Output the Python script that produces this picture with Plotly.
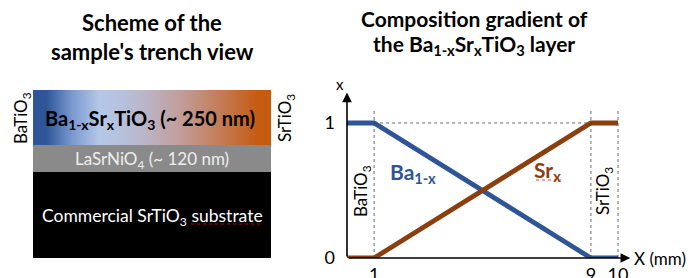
import plotly.graph_objects as go

# ---------------- data ----------------
positions_mm = [0, 1, 9, 10]
ba_fraction = [1, 1, 0, 0]
sr_fraction = [0, 0, 1, 1]
boundaries_mm = [1, 9, 10]
x_tick_vals = [1, 9, 10]
x_tick_text = ["1", "9", "10"]
y_tick_vals = [0, 1]
y_tick_text = ["0", "1"]
gradient_colors = ["#2E5597", "#7D9BD2", "#B4C7E7", "#B7C0DA", "#BCB0BE",
                   "#C19E9C", "#C3896F", "#C47242", "#C55A11"]

FONT = "Lato"
BLUE = "#2F5597"
BROWN = "#8B3F0F"

fig = go.Figure()

# ---------- left scheme (drawn on a pixel-like overlay axis) ----------
n = len(gradient_colors)
cs = [[i / (n - 1), c] for i, c in enumerate(gradient_colors)]
L, R = 33, 271
edges = [L + (R - L) * i / n for i in range(n + 1)]
fig.add_trace(go.Heatmap(
    z=[list(range(n))], x=edges, y=[90, 145], colorscale=cs, zsmooth="best",
    showscale=False, hoverinfo="skip", xaxis="x2", yaxis="y2"))

# ---------- right chart ----------
fig.add_trace(go.Scatter(x=positions_mm, y=ba_fraction, mode="lines",
                         line=dict(color=BLUE, width=4.8), showlegend=False))
fig.add_trace(go.Scatter(x=positions_mm, y=sr_fraction, mode="lines",
                         line=dict(color=BROWN, width=4.8), showlegend=False))

shapes = [
    dict(type="rect", xref="x2", yref="y2", x0=L, x1=R, y0=145, y1=172,
         fillcolor="#8A8A8A", line=dict(width=0), layer="below"),
    dict(type="rect", xref="x2", yref="y2", x0=L, x1=R, y0=172, y1=258,
         fillcolor="#000000", line=dict(width=0), layer="below"),
    dict(type="line", xref="x2", yref="y2", x0=191, x1=263, y0=224, y1=224,
         line=dict(color="#C00000", width=1, dash="dot")),
    dict(type="line", xref="x2", yref="y2", x0=536, x1=561, y0=180, y1=180,
         line=dict(color="#E04040", width=1, dash="dot")),
]
for b in boundaries_mm:
    shapes.append(dict(type="line", xref="x", yref="y", x0=b, x1=b, y0=0, y1=1.11,
                       line=dict(color="#444444", width=0.8, dash="dot")))
shapes.append(dict(type="line", xref="x", yref="y", x0=boundaries_mm[0], x1=boundaries_mm[1],
                   y0=1, y1=1, line=dict(color="#444444", width=0.8, dash="dot")))

ann = []
def t(x, y, text, size, color="black", bold=False, angle=0, ref=("x2", "y2"), xanchor="center"):
    if bold:
        text = "<b>" + text + "</b>"
    ann.append(dict(x=x, y=y, xref=ref[0], yref=ref[1], text=text, showarrow=False,
                    font=dict(family=FONT, size=size, color=color), textangle=angle,
                    xanchor=xanchor, yanchor="middle"))

# titles
t(152, 22, "Scheme of the", 22, bold=True)
t(152, 51, "sample's trench view", 22, bold=True)
t(474, 18, "Composition gradient of", 21, bold=True)
t(474, 45, "the Ba<sub>1-x</sub>Sr<sub>x</sub>TiO<sub>3</sub> layer", 21, bold=True)

# scheme texts
t(150, 119, "Ba<sub>1-x</sub>Sr<sub>x</sub>TiO<sub>3</sub> (~ 250 nm)", 20, bold=True)
t(152, 160, "LaSrNiO<sub>4</sub> (~ 120 nm)", 17, color="#EEEEEE")
t(152, 217, "Commercial SrTiO<sub>3</sub> substrate", 17.5, color="white")
t(22, 118, "BaTiO<sub>3</sub>", 17, angle=-90)
t(286, 118, "SrTiO<sub>3</sub>", 17, angle=-90)

# chart texts (pixel overlay)
t(413, 173, "Ba<sub>1-x</sub>", 21, color=BLUE, bold=True)
t(547, 171, "Sr<sub>x</sub>", 21, color=BROWN, bold=True)
t(362, 191, "BaTiO<sub>3</sub>", 17, angle=-90)
t(604, 191, "SrTiO<sub>3</sub>", 17, angle=-90)
t(340, 84, "x", 15)
t(632, 258, "X (mm)", 17, xanchor="left")

# axis arrows
ann.append(dict(x=0, y=1.225, ax=0, ay=0, xref="x", yref="y", axref="x", ayref="y",
                showarrow=True, arrowhead=2, arrowsize=1.2, arrowwidth=1.6, arrowcolor="black",
                text=""))
ann.append(dict(x=10.45, y=0, ax=0, ay=0, xref="x", yref="y", axref="x", ayref="y",
                showarrow=True, arrowhead=2, arrowsize=1.2, arrowwidth=1.6, arrowcolor="black",
                text=""))

W, H = 695, 278
fig.update_layout(
    width=W, height=H, margin=dict(l=0, r=0, t=0, b=0, autoexpand=False),
    paper_bgcolor="white", plot_bgcolor="rgba(0,0,0,0)",
    showlegend=False, shapes=shapes, annotations=ann,
    xaxis=dict(domain=[347 / W, (347 + 10.45 * 27.1) / W], range=[0, 10.45],
               tickvals=x_tick_vals, ticktext=x_tick_text, showgrid=False, zeroline=False,
               showline=False, ticks="", tickfont=dict(family=FONT, size=18, color="black"),
               ticklabelstandoff=4, automargin=False),
    yaxis=dict(domain=[(H - 258) / H, (H - 93) / H], range=[0, 1.222],
               tickvals=y_tick_vals, ticktext=y_tick_text, showgrid=False, zeroline=False,
               showline=False, ticks="", tickfont=dict(family=FONT, size=18, color="black"),
               ticklabelstandoff=11, automargin=False),
    xaxis2=dict(domain=[0, 1], range=[0, W], visible=False, anchor="y2", automargin=False),
    yaxis2=dict(domain=[0, 1], range=[H, 0], visible=False, anchor="x2", automargin=False),
)
fig.write_html("out.html", config={"displayModeBar": False},
               post_script="document.body.style.margin='0';")
